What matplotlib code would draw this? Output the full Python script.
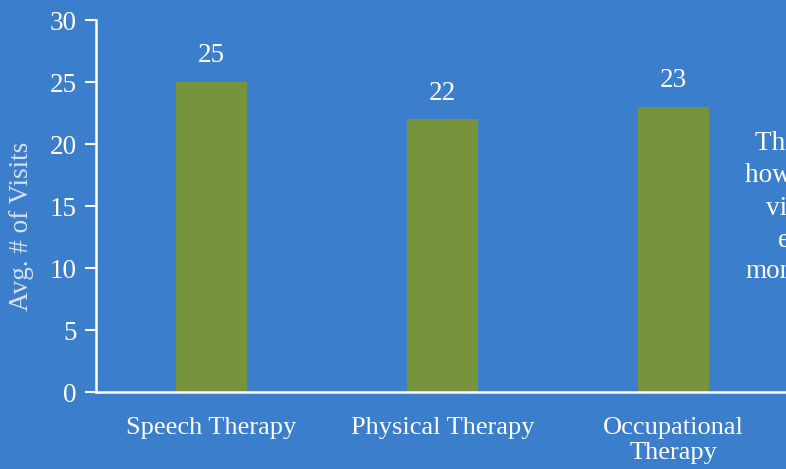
import matplotlib
matplotlib.use("Agg")
import matplotlib.pyplot as plt

# data
categories = ["Speech Therapy", "Physical Therapy", "Occupational\nTherapy"]
avg_visits = [25, 22, 23]
yticks = [0, 5, 10, 15, 20, 25, 30]

# side note (cut off at the right edge in the original)
note_lines = ["This graph", "how many total", "visits are", "each", "month"]
note_x = [755, 745, 766, 778, 745]
note_y = [143, 175, 208, 240, 272]

bg = "#3b7ecc"
bar_color = "#77933c"
fs = 19.5

plt.rcParams["font.family"] = ["Liberation Serif", "DejaVu Serif"]

fig = plt.figure(figsize=(7.86, 4.69), dpi=100)
fig.patch.set_facecolor(bg)
ax = fig.add_axes([96 / 786, 1 - 392 / 469, 693 / 786, 372 / 469])
ax.set_facecolor(bg)

x = range(len(categories))
bars = ax.bar(x, avg_visits, width=0.31, color=bar_color, zorder=2)
for b, v in zip(bars, avg_visits):
    ax.text(b.get_x() + b.get_width() / 2, v + 2.1, str(v), ha="center",
            va="center", color="white", fontsize=fs)

ax.set_xlim(-0.5, 2.5)
ax.set_ylim(0, 30)
ax.set_yticks(yticks)
ax.set_xticks(list(x))
ax.set_xticklabels(categories, fontsize=19, color="white", linespacing=1.2)
ax.tick_params(axis="x", length=0, pad=18)
ax.tick_params(axis="y", colors="white", labelsize=fs, length=8, width=1.5,
               direction="out", pad=6)
for s in ["top", "right"]:
    ax.spines[s].set_visible(False)
for s in ["left", "bottom"]:
    ax.spines[s].set_color("white")
    ax.spines[s].set_linewidth(1.8)

ax.set_ylabel("Avg. # of Visits", fontsize=fs, color="#d6e2f2")
ax.yaxis.set_label_coords(-62 / 693, 0.444)

for t, tx, ty in zip(note_lines, note_x, note_y):
    fig.text(tx / 786, 1 - ty / 469, t, ha="left", va="center",
             color="white", fontsize=fs)

fig.savefig("out.png", dpi=100, facecolor=bg)
